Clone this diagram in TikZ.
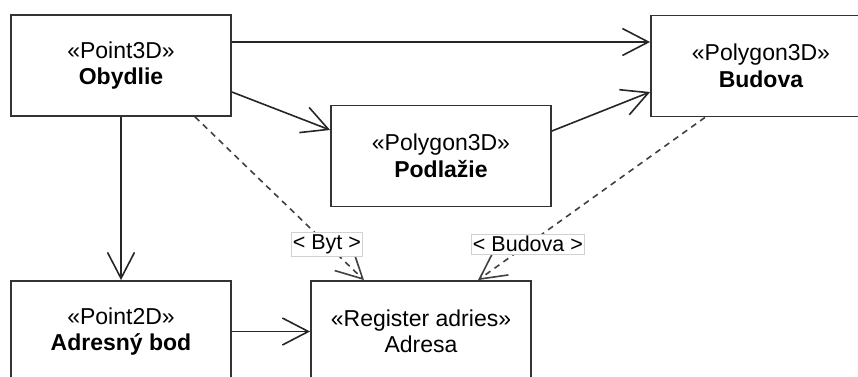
\documentclass[tikz,border=0pt]{standalone}
\usepackage{fontspec}
\setmainfont{Liberation Sans}
\usetikzlibrary{arrows.meta}
\begin{document}
\begin{tikzpicture}[x=1pt,y=-1pt,
  cls/.style={draw=black!80, line width=1.8pt, fill=white, minimum width=220pt, minimum height=101pt, align=center, inner sep=0pt, font=\fontsize{23}{26.5}\selectfont},
  assoc/.style={line width=1.6pt, draw=black!85, -{Straight Barb[length=26pt,width=27pt]}},
  dep/.style={assoc, dash pattern=on 6pt off 5pt, draw=black!75},
  lbl/.style={solid, draw=black!18, fill=white, line width=0.8pt, inner xsep=1.5pt, inner ysep=2.5pt, font=\fontsize{21.5}{24}\selectfont}]
\useasboundingbox (0,0) rectangle (858,376);
\clip (0,0) rectangle (858,376);
\node[cls] (ob) at (121,65.5) {«Point3D»\\\textbf{Obydlie}};
\node[cls] (po) at (441,156) {«Polygon3D»\\\textbf{Podlažie}};
\node[cls] (bu) at (761,66) {«Polygon3D»\\\textbf{Budova}};
\node[cls] (ab) at (121,331.5) {«Point2D»\\\textbf{Adresný bod}};
\node[cls] (ad) at (421,331.5) {«Register adries»\\Adresa};
\draw[assoc] ([yshift=23.5pt]ob.east) -- ([yshift=24pt]bu.west);
\draw[assoc] ([yshift=-26.5pt]ob.east) -- ([yshift=26pt]po.west);
\draw[assoc] ([yshift=25pt]po.east) -- ([yshift=-26pt]bu.west);
\draw[assoc] (ob.south) -- (ab.north);
\draw[assoc] (ab.east) -- (ad.west);
\draw[dep] ([xshift=74pt]ob.south) -- ([xshift=-57pt]ad.north) node[lbl, pos=0.78] (lb) {< Byt >};
\draw[dep] ([xshift=-56pt]bu.south) -- ([xshift=57pt]ad.north) node[lbl, pos=0.78] (lbu) {< Budova >};
\end{tikzpicture}
\end{document}
